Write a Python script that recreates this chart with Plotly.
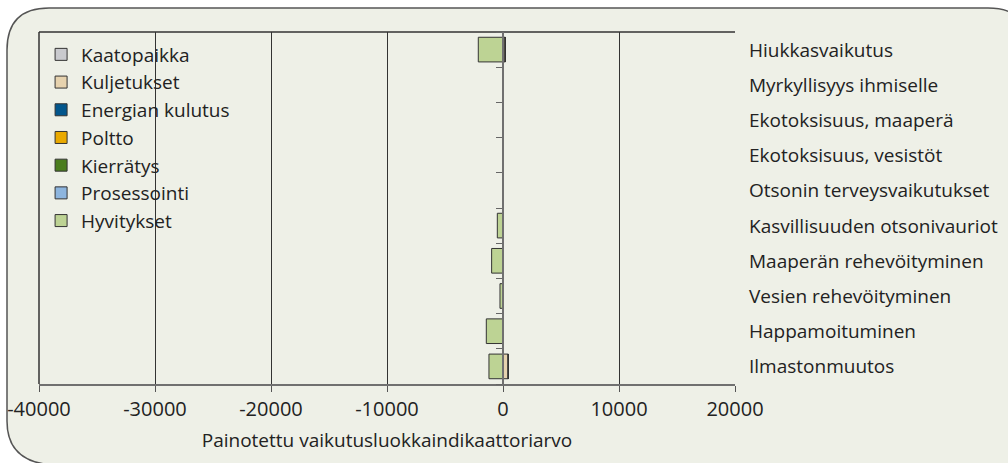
import plotly.graph_objects as go

# Impact categories, bottom to top
categories = [
    "Ilmastonmuutos",
    "Happamoituminen",
    "Vesien rehevöityminen",
    "Maaperän rehevöityminen",
    "Kasvillisuuden otsonivauriot",
    "Otsonin terveysvaikutukset",
    "Ekotoksisuus, vesistöt",
    "Ekotoksisuus, maaperä",
    "Myrkyllisyys ihmiselle",
    "Hiukkasvaikutus",
]

# Weighted indicator values per life-cycle stage
kaatopaikka = [0, 0, 0, 0, 0, 0, 0, 0, 0, 0]
kuljetukset = [460, 40, 20, 40, 40, 0, 0, 0, 0, 200]
energian_kulutus = [0, 0, 0, 0, 0, 0, 0, 0, 0, 0]
poltto = [0, 0, 0, 0, 0, 0, 0, 0, 0, 0]
kierratys = [0, 0, 0, 0, 0, 0, 0, 0, 0, 0]
prosessointi = [0, 0, 0, 0, 0, 0, 0, 0, 0, 0]
hyvitykset = [-1210, -1440, -260, -980, -490, 0, 0, 0, 0, -2130]

x_ticks = [-40000, -30000, -20000, -10000, 0, 10000, 20000]

series = [
    ("Kaatopaikka", kaatopaikka, "#C9CACE"),
    ("Kuljetukset", kuljetukset, "#E6D2AE"),
    ("Energian kulutus", energian_kulutus, "#02568C"),
    ("Poltto", poltto, "#E9A900"),
    ("Kierrätys", kierratys, "#4A7D1D"),
    ("Prosessointi", prosessointi, "#8DB5DE"),
    ("Hyvitykset", hyvitykset, "#BDD394"),
]

FONT = "'Open Sans', Lato, sans-serif"
TEXT = "#222222"

# Figure geometry in pixels
W, H = 1008, 463
ML, MR, MT, MB = 39, 273, 32, 79
PW, PH = W - ML - MR, H - MT - MB

fig = go.Figure()
for i, (name, vals, col) in enumerate(series):
    fig.add_trace(go.Bar(
        y=categories, x=vals, name=name, orientation="h",
        marker=dict(color=col, line=dict(color="#333333", width=1)),
        legendgroup=f"g{i}",
    ))

fig.update_layout(
    width=W, height=H,
    margin=dict(l=ML, r=MR, t=MT, b=MB, autoexpand=False),
    paper_bgcolor="white",
    plot_bgcolor="rgba(0,0,0,0)",
    barmode="relative",
    bargap=0.3,
    font=dict(family=FONT, size=19, color=TEXT),
    showlegend=True,
    legend=dict(
        x=0.003, y=0.99, xanchor="left", yanchor="top",
        bgcolor="rgba(0,0,0,0)", font=dict(size=19, color=TEXT, family=FONT),
        traceorder="grouped", tracegroupgap=0,
        itemwidth=30,
    ),
    xaxis=dict(
        range=[-40000, 20000], tickvals=x_ticks,
        ticktext=[str(v) for v in x_ticks],
        automargin=False,
        showgrid=True, gridcolor="#333333", gridwidth=1,
        zeroline=False,
        showline=True, linecolor="#707070", linewidth=2,
        ticks="outside", ticklen=6, tickcolor="#555555",
        tickfont=dict(size=20, color=TEXT, family=FONT),
        title=dict(text="Painotettu vaikutusluokkaindikaattoriarvo",
                   font=dict(size=19, color=TEXT, family=FONT), standoff=13),
    ),
    yaxis=dict(
        type="category", categoryorder="array", categoryarray=categories,
        anchor="free", position=2 / 3, automargin=False,
        showline=True, linecolor="#707070", linewidth=2,
        ticks="outside", ticklen=6, tickcolor="#666666",
        tickson="boundaries",
        showticklabels=False, showgrid=False,
    ),
)


def pt(px, py):
    """Pixel position -> paper coordinates string."""
    return f"{(px - ML) / PW:.5f},{(H - MB - py) / PH:.5f}"


# Rounded panel behind the chart
R = 42
L, T, RT = 7, 8, 1030
BOT = H + 2
panel = (
    f"M {pt(L + R, T)} L {pt(RT - R, T)} Q {pt(RT, T)} {pt(RT, T + R)} "
    f"L {pt(RT, BOT)} L {pt(L + R + 10, BOT)} "
    f"Q {pt(L, BOT)} {pt(L, H - R)} L {pt(L, T + R)} "
    f"Q {pt(L, T)} {pt(L + R, T)} Z"
)
fig.add_shape(type="path", xref="paper", yref="paper", layer="below",
              path=panel, fillcolor="#EEF0E7",
              line=dict(color="#555555", width=1.5))

# Plot-area frame (top and left edges)
fig.add_shape(type="line", xref="paper", yref="paper", x0=0, x1=1, y0=1, y1=1,
              line=dict(color="#333333", width=1.5), layer="below")
fig.add_shape(type="line", xref="paper", yref="paper", x0=0, x1=0, y0=0, y1=1,
              line=dict(color="#333333", width=1.5), layer="below")

# Category labels to the right of the plot area
for c in categories:
    fig.add_annotation(x=1, xref="paper", xshift=12, y=c, yref="y",
                       text=c, showarrow=False, xanchor="left",
                       font=dict(size=19, color=TEXT, family=FONT))

fig.write_html("out.html")
